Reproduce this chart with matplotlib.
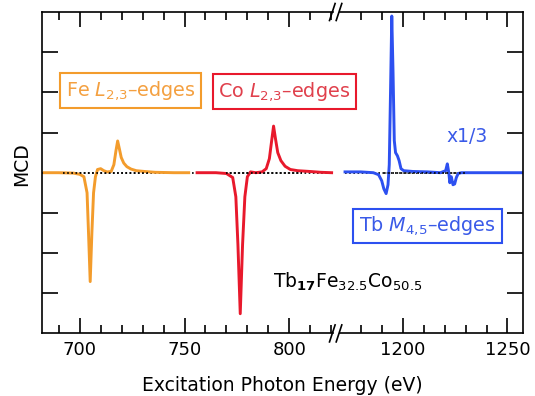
import matplotlib
matplotlib.use("Agg")
import matplotlib.pyplot as plt
from matplotlib.lines import Line2D

# ---------------- data ----------------
fe_energy = [683, 690, 697, 700, 702, 703.5, 704.2, 705.0, 705.8, 706.6, 707.5, 708.5,
             710, 711.5, 713, 715, 716.3, 717.3, 718.1, 718.9, 719.8, 721, 722.5,
             724.5, 727, 731, 736, 745, 752]
fe_mcd = [0, 0, -0.01, -0.04, -0.1, -0.5, -1.5, -2.71, -1.5, -0.5, -0.1, 0.08,
          0.1, 0.05, 0.02, 0.03, 0.2, 0.55, 0.79, 0.6, 0.38, 0.24, 0.15,
          0.09, 0.05, 0.03, 0.01, 0, 0]

co_energy = [756, 765, 770, 773, 774.5, 775.5, 776.6, 777.7, 778.8, 780, 781.5, 784,
             787, 789, 790.5, 791.6, 792.5, 793.4, 794.5, 796, 798, 800.5, 804, 810,
             815, 820.2]
co_mcd = [0, 0, -0.02, -0.12, -0.6, -1.8, -3.51, -1.8, -0.6, -0.1, 0.02, 0.0,
          0.02, 0.1, 0.35, 0.8, 1.16, 0.85, 0.5, 0.3, 0.16, 0.08, 0.05, 0.03,
          0.01, 0]

tb_energy = [1172.5, 1180, 1186, 1188.5, 1190, 1191, 1192.1, 1193.0, 1193.6, 1194.2,
             1194.8, 1195.4, 1196.0, 1196.6, 1197.5, 1198.3, 1199.2, 1200.5, 1205,
             1212, 1218, 1220.5, 1221.3, 1222.0, 1222.5, 1223.2, 1224.0, 1224.8,
             1225.6, 1226.5, 1228, 1240, 1257.4]
tb_mcd = [0.02, 0.02, 0.0, -0.05, -0.2, -0.4, -0.52, -0.3, 0.2, 2.0,
          3.9, 2.5, 0.8, 0.5, 0.42, 0.3, 0.1, 0.05, 0.03,
          0.02, 0.0, 0.05, 0.22, 0.0, -0.25, -0.1, -0.3, -0.28,
          -0.12, -0.02, 0.0, 0.0, 0.0]

left_xlim = (682.0, 821.1)
right_xlim = (1170.1, 1257.4)
left_major = [700, 750, 800]
left_minor = [690, 710, 720, 730, 740, 760, 770, 780, 790, 810, 820]
right_major = [1200, 1250]
right_minor = [1180, 1190, 1210, 1220, 1230, 1240]
y_ticks = [-3, -2, -1, 0, 1, 2, 3]
dotted_spans_left = [(692, 733), (770, 806)]
dotted_spans_right = [(1191, 1230)]

FE_C = "#F39C2C"
CO_C = "#E8192C"
TB_C = "#2D50F0"

W, H = 535, 396
plt.rcParams['font.family'] = ['DejaVu Sans']
fig = plt.figure(figsize=(W / 100, H / 100), dpi=100)

def fx(px):
    return px / W

def fy(py):
    return 1 - py / H

y0, y1 = fy(333.4), fy(12)
axL = fig.add_axes([fx(42), y0, fx(333.5) - fx(42), y1 - y0])
axR = fig.add_axes([fx(340), y0, fx(523) - fx(340), y1 - y0])

for ax, xl in ((axL, left_xlim), (axR, right_xlim)):
    ax.set_xlim(*xl)
    ax.set_ylim(-4, 4)
    ax.set_yticks(y_ticks)
    ax.set_yticklabels([])
    for s in ax.spines.values():
        s.set_linewidth(1.2)
    ax.tick_params(axis='x', which='major', direction='in', length=11, width=1.2,
                   top=True, bottom=True, labelsize=13, pad=5.5)
    ax.tick_params(axis='x', which='minor', direction='in', length=5.6, width=1.2,
                   top=True, bottom=True)
    ax.tick_params(axis='y', which='major', direction='in', length=11.5, width=1.2)

axL.set_xticks(left_major)
axL.set_xticks(left_minor, minor=True)
axR.set_xticks(right_major)
axR.set_xticks(right_minor, minor=True)
axL.spines['right'].set_visible(False)
axR.spines['left'].set_visible(False)
axL.tick_params(axis='y', left=True, right=False)
axR.tick_params(axis='y', left=False, right=True)

# baseline under curves
dot_style = dict(color='black', linestyle=(0, (1, 1.5)), linewidth=1.2)
axL.plot(left_xlim, [0, 0], zorder=1, **dot_style)
axR.plot([1172.5, right_xlim[1]], [0, 0], zorder=1, **dot_style)

axL.plot(fe_energy, fe_mcd, color=FE_C, lw=2.1, zorder=2, solid_joinstyle='round')
axL.plot(co_energy, co_mcd, color=CO_C, lw=2.1, zorder=2, solid_joinstyle='round')
axR.plot(tb_energy, tb_mcd, color=TB_C, lw=2.1, zorder=2, solid_joinstyle='round')

for a, b in dotted_spans_left:
    axL.plot([a, b], [0, 0], zorder=3, **dot_style)
for a, b in dotted_spans_right:
    axR.plot([a, b], [0, 0], zorder=3, **dot_style)

# break marks
for yc in (12, 333.4):
    for xs in (329.5, 336.2):
        fig.add_artist(Line2D([fx(xs), fx(xs + 5.6)], [fy(yc + 8.5), fy(yc - 8.5)],
                              color='black', lw=1.2))

# labels
fig.text(fx(282.5), fy(391.4), "Excitation Photon Energy (eV)", ha='center',
         va='baseline', fontsize=13.5)
fig.text(fx(21.7), fy(164), "MCD", rotation=90, ha='center', va='center', fontsize=13.5)

box = lambda c: dict(boxstyle='square,pad=0.3', fc='white', ec=c, lw=1.5)
fig.text(fx(130.7), fy(90.5), r"Fe $\mathit{L}_{2{,}3}$–edges", ha='center', va='center',
         fontsize=13.8, color="#F4A040", bbox=box(FE_C))
fig.text(fx(284.5), fy(91.7), r"Co $\mathit{L}_{2{,}3}$–edges", ha='center', va='center',
         fontsize=13.8, color="#E0404C", bbox=box(CO_C))
fig.text(fx(427.5), fy(226), r"Tb $\mathit{M}_{4{,}5}$–edges", ha='center', va='center',
         fontsize=13.8, color="#3A5AE8", bbox=box(TB_C))
fig.text(fx(467), fy(137), "x1/3", ha='center', va='center', fontsize=13.5,
         color="#3A5AE8")
fig.text(fx(348), fy(282), r"Tb$_{\mathbf{17}}$Fe$_{32.5}$Co$_{50.5}$", ha='center',
         va='center', fontsize=13.5, color='black')

fig.savefig("out.png", dpi=100)
